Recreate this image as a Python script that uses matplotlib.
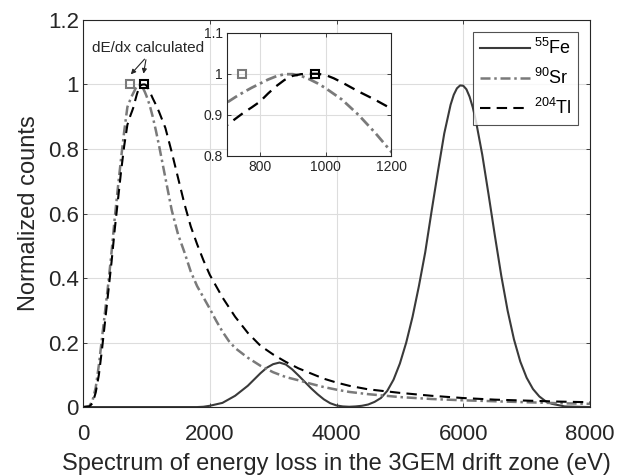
import matplotlib
import numpy as np

matplotlib.use("Agg")
import matplotlib.pyplot as plt  # noqa: E402

plt.rcParams["font.family"] = ["Liberation Sans", "DejaVu Sans"]
plt.rcParams["mathtext.fontset"] = "custom"
plt.rcParams["mathtext.rm"] = "Liberation Sans"
plt.rcParams["mathtext.it"] = "Liberation Sans"
plt.rcParams["mathtext.bf"] = "Liberation Sans"

# ----------------------------------------------------------------------------
# Data
# ----------------------------------------------------------------------------
fe_x = [0, 1800, 1900, 2000, 2200, 2400, 2600, 2800, 2900, 3000, 3100, 3200, 3300,
        3400, 3500, 3600, 3700, 3800, 3900, 4000, 4100, 4200, 4300, 4400, 4500,
        4600, 4700, 4800, 4900, 5000, 5100, 5200, 5300, 5400, 5500, 5600, 5700,
        5800, 5850, 5900, 5950, 6000, 6050, 6100, 6150, 6200, 6300, 6400, 6500,
        6600, 6700, 6800, 6900, 7000, 7100, 7200, 7300, 7400, 7600, 8000]
fe_y = [0, 0, 0.001, 0.004, 0.013, 0.035, 0.066, 0.105, 0.122, 0.133, 0.138, 0.132,
        0.117, 0.098, 0.078, 0.058, 0.040, 0.024, 0.012, 0.005, 0.002, 0.001, 0.002,
        0.004, 0.008, 0.016, 0.028, 0.050, 0.085, 0.135, 0.200, 0.280, 0.375, 0.480,
        0.607, 0.730, 0.848, 0.937, 0.968, 0.988, 0.997, 0.996, 0.985, 0.962, 0.929,
        0.887, 0.782, 0.658, 0.530, 0.407, 0.299, 0.210, 0.141, 0.091, 0.056, 0.033,
        0.018, 0.010, 0.002, 0.0]

sr_x = [0, 100, 150, 200, 250, 300, 350, 400, 450, 500, 550, 600, 650, 700, 725,
        750, 775, 800, 825, 850, 875, 900, 925, 950, 975, 1000, 1050, 1100, 1150,
        1200, 1300, 1400, 1500, 1600, 1700, 1800, 1900, 2000, 2100, 2200, 2300,
        2400, 2600, 2800, 3000, 3200, 3400, 3600, 3800, 4000, 4200, 4500, 5000,
        5500, 6000, 6500, 7000, 7500, 8000]
sr_y = [0, 0.003, 0.02, 0.06, 0.13, 0.215, 0.30, 0.385, 0.48, 0.585, 0.68, 0.77,
        0.855, 0.93, 0.943, 0.955, 0.966, 0.976, 0.986, 0.994, 0.999, 0.999, 0.995,
        0.987, 0.977, 0.965, 0.937, 0.90, 0.857, 0.81, 0.71, 0.61, 0.535, 0.48,
        0.42, 0.375, 0.34, 0.305, 0.268, 0.234, 0.205, 0.183, 0.153, 0.128, 0.108,
        0.093, 0.083, 0.072, 0.062, 0.054, 0.047, 0.040, 0.031, 0.025, 0.021, 0.018,
        0.015, 0.012, 0.010]

tl_x = [0, 100, 150, 200, 250, 300, 350, 400, 450, 500, 550, 600, 650, 700, 725,
        750, 775, 800, 825, 850, 875, 900, 925, 950, 975, 1000, 1025, 1050, 1075,
        1100, 1150, 1200, 1300, 1400, 1500, 1600, 1700, 1800, 1900, 2000, 2200,
        2400, 2600, 2800, 3000, 3200, 3400, 3600, 3800, 4000, 4200, 4500, 5000,
        5500, 6000, 6500, 7000, 7500, 8000]
tl_y = [0, 0.002, 0.012, 0.045, 0.10, 0.18, 0.27, 0.36, 0.45, 0.55, 0.64, 0.73,
        0.81, 0.875, 0.89, 0.905, 0.918, 0.932, 0.952, 0.970, 0.985, 0.995, 0.999,
        1.0, 1.0, 0.997, 0.989, 0.979, 0.968, 0.957, 0.937, 0.915, 0.865, 0.79,
        0.71, 0.63, 0.56, 0.505, 0.455, 0.41, 0.34, 0.28, 0.23, 0.19, 0.163, 0.14,
        0.12, 0.104, 0.088, 0.076, 0.066, 0.055, 0.044, 0.035, 0.028, 0.023, 0.020,
        0.017, 0.015]

# dE/dx calculated points
dedx_sr = (745, 1.0)
dedx_tl = (967, 1.0)

labels = [r"$^{55}$Fe", r"$^{90}$Sr", r"$^{204}$Tl"]

FE_COLOR = "#3a3a3a"
SR_COLOR = "#7a7a7a"
TL_COLOR = "#000000"
GRID_COLOR = "#dddddd"
TEXT_COLOR = "#262626"


def style_axes(ax, fontsize):
    ax.grid(True, color=GRID_COLOR, linewidth=0.8)
    ax.set_axisbelow(True)
    ax.tick_params(direction="in", top=True, right=True, labelsize=fontsize,
                   length=3, width=0.6, colors=TEXT_COLOR, pad=3)
    for s in ax.spines.values():
        s.set_color(TEXT_COLOR)
        s.set_linewidth(0.8)


def draw_curves(ax, lw_scale=1.0):
    ax.plot(fe_x, fe_y, color=FE_COLOR, lw=1.5 * lw_scale, ls="-", label=labels[0])
    ax.plot(sr_x, sr_y, color=SR_COLOR, lw=1.8 * lw_scale, ls=(0, (4, 1.5, 1, 1.5)),
            label=labels[1])
    ax.plot(tl_x, tl_y, color=TL_COLOR, lw=1.5 * lw_scale, ls=(0, (5, 3)), label=labels[2])
    ax.plot(*dedx_sr, marker="s", ms=6, mfc="none", mec=SR_COLOR, mew=1.5, ls="none")
    ax.plot(*dedx_tl, marker="s", ms=6, mfc="none", mec=TL_COLOR, mew=1.5, ls="none")


# ----------------------------------------------------------------------------
# Main plot
# ----------------------------------------------------------------------------
fig = plt.figure(figsize=(6.29, 4.75), dpi=100)
ax = fig.add_axes([0.132, 0.143, 0.806, 0.815])
draw_curves(ax)
ax.set_xlim(0, 8000)
ax.set_ylim(0, 1.2)
ax.set_xticks([0, 2000, 4000, 6000, 8000])
ax.set_yticks([0, 0.2, 0.4, 0.6, 0.8, 1.0, 1.2])
ax.set_yticklabels(["0", "0.2", "0.4", "0.6", "0.8", "1", "1.2"])
style_axes(ax, 16)
ax.tick_params(axis="x", pad=12)
ax.set_xlabel("Spectrum of energy loss in the 3GEM drift zone (eV)", fontsize=17,
              color=TEXT_COLOR, labelpad=6)
ax.set_ylabel("Normalized counts", fontsize=17, color=TEXT_COLOR, labelpad=6)

leg = ax.legend(loc="upper right", bbox_to_anchor=(0.976, 0.969), borderaxespad=0,
                fontsize=13, frameon=True, fancybox=False, edgecolor=TEXT_COLOR,
                handlelength=2.8, borderpad=0.35, labelspacing=0.55, handletextpad=0.2)
leg.get_frame().set_linewidth(0.8)

# annotation arrows to the dE/dx points
for pt in (dedx_sr, dedx_tl):
    ax.annotate("", xy=(pt[0] - 20, pt[1] + 0.025), xytext=(1000, 1.085),
                arrowprops=dict(arrowstyle="-|>", color=TEXT_COLOR, lw=0.8,
                                mutation_scale=7))
ax.text(1030, 1.113, "dE/dx calculated", fontsize=11, ha="center", va="center",
        color=TEXT_COLOR)

# ----------------------------------------------------------------------------
# Inset zoom on the peaks
# ----------------------------------------------------------------------------
axin = fig.add_axes([0.361, 0.672, 0.261, 0.259])
draw_curves(axin, lw_scale=1.1)
axin.set_xlim(700, 1200)
axin.set_ylim(0.8, 1.1)
axin.set_xticks([800, 1000, 1200])
axin.set_yticks([0.8, 0.9, 1.0, 1.1])
axin.set_yticklabels(["0.8", "0.9", "1", "1.1"])
style_axes(axin, 10)

fig.savefig("out.png", dpi=100)
plt.close(fig)
